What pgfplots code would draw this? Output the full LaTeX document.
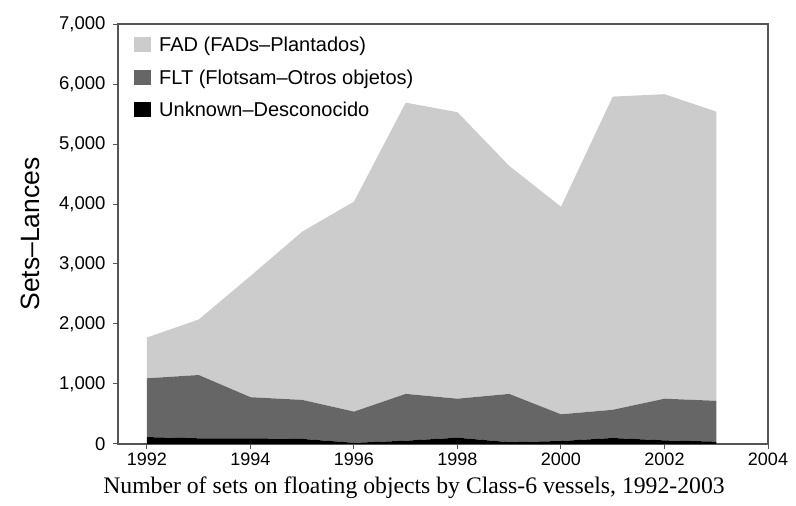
\documentclass[border=0pt]{standalone}
\usepackage{pgfplots}
\pgfplotsset{compat=1.18}
\usepackage{fontspec}
\setmainfont{Liberation Sans}
\newfontfamily\serifcap{Liberation Serif}
\definecolor{fadc}{HTML}{CCCCCC}
\definecolor{fltc}{HTML}{666666}
\definecolor{frame}{HTML}{555555}
\begin{document}
\begin{tikzpicture}
\useasboundingbox (-118pt,-62pt) rectangle (678pt,444pt);
\begin{axis}[
  scale only axis,
  width=650pt, height=420pt,
  xmin=1991.44, xmax=2004,
  ymin=0, ymax=7000,
  stack plots=y,
  xtick={1992,1994,...,2004},
  ytick={0,1000,...,7000},
  tick align=outside,
  xtick pos=bottom, ytick pos=left,
  major tick length=5pt,
  axis line style={frame, line width=1.2pt},
  tick style={frame, line width=1pt},
  /pgf/number format/assume math mode=true,
  x tick label style={font=\fontsize{18}{21}\selectfont, /pgf/number format/.cd, 1000 sep={}},
  y tick label style={font=\fontsize{18.5}{21}\selectfont, xshift=-4pt, /pgf/number format/.cd, 1000 sep={,}},
  ylabel={Sets--Lances},
  ylabel style={font=\fontsize{26.5}{30}\selectfont, at={(axis description cs:-0.135,0.5)}, anchor=center},
  legend style={at={(0.02,0.978)}, anchor=north west, draw=none, fill=none,
    font=\fontsize{20}{23}\selectfont, row sep=12.5pt, column sep=6pt,
    legend cell align=left},
  legend image code/.code={\fill[#1] (0pt,-7pt) rectangle (17pt,8pt);},
  reverse legend,
]
\addplot[draw=none, fill=black] coordinates {
(1992,115) (1993,95) (1994,95) (1995,85) (1996,20) (1997,55) (1998,105) (1999,30) (2000,50) (2001,100) (2002,60) (2003,40)
} \closedcycle;
\addlegendentry{Unknown--Desconocido}
\addplot[draw=none, fill=fltc] coordinates {
(1992,980) (1993,1055) (1994,685) (1995,650) (1996,520) (1997,780) (1998,650) (1999,805) (2000,445) (2001,470) (2002,695) (2003,680)
} \closedcycle;
\addlegendentry{FLT (Flotsam--Otros objetos)}
\addplot[draw=none, fill=fadc] coordinates {
(1992,680) (1993,925) (1994,2020) (1995,2805) (1996,3500) (1997,4855) (1998,4775) (1999,3800) (2000,3460) (2001,5220) (2002,5075) (2003,4820)
} \closedcycle;
\addlegendentry{FAD (FADs--Plantados)}
\end{axis}
\node[font=\serifcap\fontsize{23.7}{27}\selectfont] at (296pt,-44pt) {Number of sets on floating objects by Class-6 vessels, 1992-2003};
\end{tikzpicture}
\end{document}
